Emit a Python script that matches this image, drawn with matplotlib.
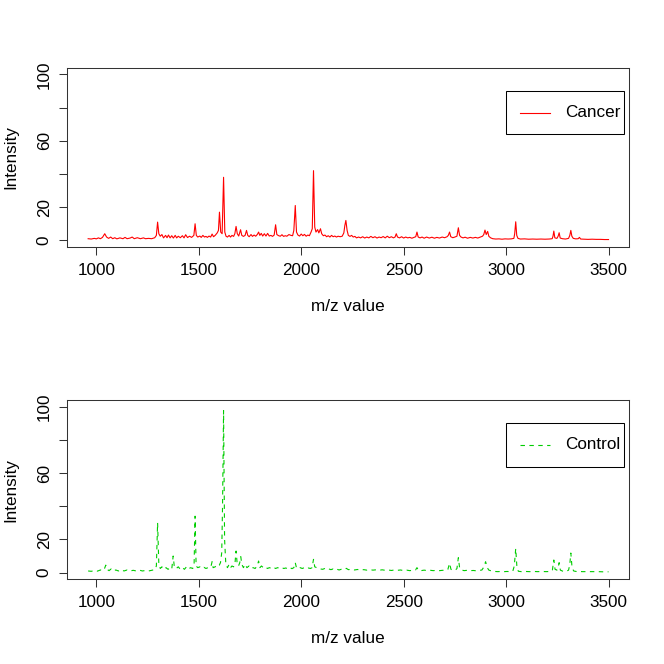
import matplotlib
matplotlib.use('Agg')
import matplotlib.pyplot as plt
from matplotlib.patches import Rectangle
from matplotlib.lines import Line2D

plt.rcParams['font.family'] = ['Liberation Sans', 'DejaVu Sans']

# Cancer spectrum (m/z, intensity)
cancer_mz = [960, 975, 990, 1000, 1010, 1020, 1030, 1041, 1050, 1060, 1070, 1080, 1090, 1100,
             1115, 1130, 1140, 1150, 1165, 1175, 1185, 1200, 1215, 1230, 1240, 1255, 1270, 1285,
             1293, 1299, 1305, 1312, 1320, 1328, 1338, 1345, 1352, 1360, 1368, 1376, 1385, 1392,
             1400, 1410, 1420, 1428, 1436, 1445, 1455, 1465, 1476, 1482, 1488, 1495, 1505, 1512,
             1520, 1528, 1535, 1542, 1550, 1558, 1565, 1572, 1580, 1590, 1596, 1601, 1607, 1614,
             1621, 1627, 1633, 1640, 1648, 1655, 1662, 1670, 1676, 1682, 1688, 1695, 1704, 1710,
             1718, 1726, 1733, 1739, 1746, 1755, 1762, 1770, 1778, 1786, 1792, 1798, 1805, 1812,
             1820, 1828, 1836, 1844, 1852, 1860, 1868, 1875, 1881, 1890, 1898, 1906, 1914, 1922,
             1930, 1940, 1950, 1958, 1964, 1971, 1977, 1984, 1992, 2000, 2008, 2016, 2024, 2032,
             2040, 2048, 2054, 2060, 2066, 2072, 2080, 2086, 2094, 2100, 2108, 2116, 2124, 2132,
             2140, 2148, 2156, 2164, 2172, 2180, 2190, 2200, 2208, 2213, 2218, 2224, 2230, 2238,
             2246, 2254, 2262, 2270, 2280, 2290, 2300, 2310, 2320, 2330, 2340, 2350, 2360, 2370,
             2380, 2390, 2400, 2410, 2420, 2430, 2440, 2450, 2458, 2464, 2470, 2480, 2490, 2500,
             2510, 2520, 2530, 2540, 2550, 2559, 2565, 2571, 2580, 2590, 2600, 2612, 2625, 2638,
             2650, 2662, 2675, 2688, 2700, 2712, 2718, 2724, 2730, 2740, 2750, 2760, 2767, 2773,
             2780, 2790, 2800, 2812, 2825, 2838, 2850, 2862, 2875, 2885, 2891, 2897, 2903, 2910,
             2916, 2925, 2935, 2950, 2965, 2980, 2995, 3010, 3025, 3038, 3042, 3047, 3052, 3058,
             3070, 3090, 3110, 3130, 3150, 3170, 3190, 3210, 3225, 3229, 3233, 3238, 3248, 3254,
             3259, 3264, 3275, 3290, 3305, 3311, 3316, 3321, 3328, 3340, 3352, 3358, 3364, 3380,
             3400, 3420, 3440, 3460, 3480, 3500]
cancer_int = [1.0, 0.8, 1.2, 0.9, 1.5, 1.0, 1.8, 4.0, 2.0, 1.2, 2.0, 1.0, 1.6, 0.9,
              1.5, 1.0, 1.8, 1.0, 1.4, 2.0, 1.0, 1.6, 1.0, 1.5, 1.0, 1.2, 1.0, 1.6,
              3.0, 11.0, 4.0, 2.5, 3.5, 1.5, 3.0, 1.6, 3.2, 1.5, 2.8, 1.4, 3.0, 1.5,
              2.5, 1.6, 2.8, 1.5, 3.4, 1.7, 2.5, 1.8, 3.0, 10.0, 3.0, 2.0, 2.6, 1.8,
              3.0, 2.0, 2.4, 1.8, 2.6, 2.0, 3.8, 2.2, 3.0, 4.5, 6.0, 17.0, 5.0, 4.0,
              38.0, 5.0, 2.5, 2.0, 3.0, 2.0, 3.0, 2.4, 4.0, 8.4, 4.0, 2.6, 6.4, 3.0,
              2.4, 3.0, 6.0, 3.0, 2.2, 3.5, 2.4, 3.2, 2.5, 3.6, 5.0, 3.0, 4.2, 2.6,
              4.0, 2.6, 4.2, 2.6, 3.0, 2.4, 3.2, 9.4, 3.5, 2.8, 2.5, 3.4, 2.4, 2.8,
              2.5, 3.5, 3.0, 2.8, 6.0, 21.0, 5.0, 3.2, 2.6, 3.8, 2.8, 3.6, 2.5, 3.2,
              2.8, 5.0, 7.0, 42.0, 8.0, 5.0, 6.5, 4.5, 7.0, 4.0, 2.8, 3.2, 2.2, 2.8,
              2.0, 3.0, 2.2, 2.6, 2.0, 2.5, 2.2, 2.5, 4.5, 9.0, 12.0, 6.0, 3.0, 2.4,
              3.0, 2.0, 2.4, 1.5, 2.0, 1.5, 2.2, 1.4, 2.0, 1.5, 2.4, 1.6, 2.2, 1.4,
              2.0, 1.6, 2.3, 1.5, 2.5, 1.6, 2.2, 1.5, 2.0, 4.0, 2.0, 1.5, 2.2, 1.4,
              2.0, 1.5, 1.8, 1.3, 1.8, 2.2, 5.0, 2.0, 1.5, 2.0, 1.3, 2.0, 1.4, 1.9,
              1.3, 1.8, 1.4, 2.0, 1.6, 2.2, 3.0, 5.0, 2.2, 1.6, 2.0, 2.5, 7.6, 3.0,
              2.0, 1.5, 1.9, 1.3, 1.8, 1.4, 1.8, 1.4, 2.0, 2.5, 3.5, 6.2, 3.5, 5.4,
              2.4, 1.5, 1.0, 0.8, 0.9, 0.7, 0.9, 0.8, 0.9, 1.2, 4.0, 11.2, 3.0, 1.2,
              0.8, 0.9, 0.7, 0.8, 0.7, 0.8, 0.7, 0.8, 1.0, 2.5, 5.6, 1.5, 1.2, 2.5,
              4.6, 1.4, 1.0, 0.8, 1.2, 3.0, 6.0, 2.5, 1.2, 0.9, 1.0, 1.8, 0.8, 0.7,
              0.6, 0.7, 0.6, 0.6, 0.5, 0.5]

# Control spectrum (m/z, intensity)
control_mz = [960, 975, 990, 1005, 1020, 1032, 1040, 1046, 1052, 1062, 1072, 1082, 1095, 1108,
              1120, 1135, 1150, 1165, 1180, 1195, 1210, 1225, 1240, 1255, 1270, 1285, 1293, 1299,
              1305, 1312, 1320, 1330, 1340, 1350, 1360, 1368, 1375, 1381, 1390, 1400, 1410, 1420,
              1430, 1440, 1450, 1460, 1470, 1477, 1482, 1487, 1495, 1505, 1515, 1525, 1535, 1545,
              1552, 1560, 1565, 1570, 1580, 1590, 1600, 1606, 1612, 1616, 1621, 1626, 1632, 1640,
              1648, 1655, 1662, 1670, 1677, 1682, 1687, 1694, 1700, 1705, 1710, 1718, 1726, 1735,
              1745, 1755, 1765, 1775, 1785, 1792, 1798, 1806, 1815, 1825, 1835, 1845, 1855, 1865,
              1875, 1885, 1895, 1905, 1915, 1925, 1935, 1945, 1955, 1964, 1971, 1977, 1985, 1995,
              2005, 2015, 2025, 2035, 2045, 2053, 2060, 2066, 2075, 2085, 2095, 2105, 2115, 2125,
              2135, 2145, 2155, 2165, 2175, 2185, 2195, 2210, 2220, 2230, 2245, 2260, 2275, 2290,
              2305, 2320, 2335, 2350, 2365, 2380, 2395, 2410, 2425, 2440, 2455, 2470, 2485, 2500,
              2515, 2530, 2545, 2558, 2565, 2572, 2585, 2600, 2615, 2630, 2645, 2660, 2675, 2690,
              2705, 2716, 2724, 2731, 2740, 2752, 2760, 2767, 2773, 2782, 2795, 2810, 2825, 2840,
              2855, 2870, 2882, 2892, 2900, 2908, 2916, 2930, 2945, 2960, 2975, 2990, 3005, 3020,
              3033, 3040, 3047, 3053, 3060, 3075, 3095, 3115, 3135, 3155, 3175, 3195, 3215, 3226,
              3233, 3239, 3248, 3254, 3259, 3265, 3278, 3292, 3305, 3311, 3316, 3322, 3330, 3342,
              3355, 3370, 3390, 3410, 3430, 3450, 3470, 3490, 3500]
control_int = [1.0, 0.8, 1.2, 0.9, 1.6, 1.2, 2.5, 4.5, 2.0, 1.2, 2.2, 1.0, 1.6, 1.0,
               1.8, 1.0, 1.6, 1.0, 1.4, 1.0, 1.5, 1.0, 1.3, 1.0, 1.4, 1.8, 4.0, 30.0,
               5.0, 2.5, 3.5, 2.0, 3.0, 2.0, 2.8, 2.0, 10.0, 3.0, 2.5, 3.5, 2.0, 3.0,
               2.0, 3.5, 2.2, 3.0, 2.5, 4.0, 34.0, 4.0, 3.0, 3.5, 2.5, 3.2, 2.5, 3.0,
               2.8, 4.0, 6.6, 3.0, 3.5, 5.0, 4.5, 6.0, 12.0, 40.0, 97.6, 20.0, 5.0, 3.0,
               5.0, 3.0, 4.0, 3.5, 6.0, 13.0, 6.0, 4.0, 6.0, 9.6, 5.0, 3.0, 5.0, 3.0,
               4.0, 2.5, 3.0, 2.5, 4.0, 7.0, 3.0, 4.0, 3.0, 3.5, 2.5, 3.0, 2.5, 3.2,
               2.5, 3.0, 2.5, 3.0, 2.5, 2.8, 2.2, 3.0, 2.4, 3.0, 6.0, 2.8, 2.4, 3.0,
               2.5, 3.0, 2.4, 2.8, 2.5, 3.0, 8.0, 3.5, 3.0, 2.5, 2.2, 2.0, 2.5, 1.8,
               2.2, 1.8, 2.2, 1.6, 2.0, 1.6, 2.0, 1.8, 2.6, 1.8, 2.0, 1.6, 1.9, 1.5,
               1.8, 1.5, 1.8, 1.5, 1.7, 1.4, 1.7, 1.4, 1.6, 1.3, 1.6, 1.4, 1.6, 1.2,
               1.5, 1.2, 1.4, 1.6, 3.0, 1.4, 1.2, 1.5, 1.2, 1.4, 1.2, 1.4, 1.2, 1.4,
               1.3, 2.0, 5.6, 2.0, 1.4, 1.6, 2.4, 9.0, 3.0, 1.6, 1.2, 1.4, 1.2, 1.3,
               1.1, 1.3, 1.6, 3.5, 6.6, 3.0, 1.5, 1.0, 0.7, 0.6, 0.7, 0.6, 0.7, 0.6,
               1.0, 4.0, 14.5, 3.0, 0.8, 0.6, 0.7, 0.6, 0.7, 0.6, 0.7, 0.6, 0.7, 1.5,
               7.6, 2.0, 1.5, 3.0, 6.0, 1.5, 0.8, 0.7, 1.5, 5.0, 11.8, 3.0, 1.0, 0.7,
               0.8, 0.6, 0.6, 0.6, 0.6, 0.6, 0.5, 0.5, 0.5]

x_ticks = [1000, 1500, 2000, 2500, 3000, 3500]
y_ticks = [0, 20, 40, 60, 80, 100]
y_labels = ['0', '20', '', '60', '', '100']

fig = plt.figure(figsize=(6.64, 6.64), dpi=100)

panels = [
    (cancer_mz, cancer_int, '#FF0000', '-', 'Cancer', 0.628),
    (control_mz, control_int, '#00CD00', (0, (4, 4)), 'Control', 0.1276),
]

fs = 12.3
for mz, inten, col, ls, name, bottom in panels:
    ax = fig.add_axes([0.1014, bottom, 0.8464, 0.27])
    ax.plot(mz, inten, color=col, lw=0.8, linestyle=ls)
    rng = max(mz) - min(mz)
    ax.set_xlim(min(mz) - 0.04 * rng, max(mz) + 0.04 * rng)
    ax.set_ylim(-4, 104)
    ax.set_xticks(x_ticks)
    ax.set_xticklabels([str(t) for t in x_ticks])
    ax.set_yticks(y_ticks)
    ax.set_yticklabels(y_labels, rotation=90, va='center')
    ax.tick_params(direction='out', length=5.8, width=0.75, labelsize=fs, pad=5.5,
                   color='#333333')
    for s in ax.spines.values():
        s.set_linewidth(0.75)
        s.set_color('#333333')
    ax.set_xlabel('m/z value', fontsize=fs, labelpad=15)
    ax.set_ylabel('Intensity', fontsize=fs, labelpad=13)

    # legend box drawn like R's legend()
    ax.add_patch(Rectangle((0.78, 0.6286), 0.211, 0.2414, transform=ax.transAxes,
                           facecolor='white', edgecolor='black', lw=0.75, zorder=5))
    ax.add_line(Line2D([0.8055, 0.859], [0.749, 0.749], transform=ax.transAxes,
                       color=col, lw=0.8, linestyle=ls, zorder=6))
    ax.text(0.885, 0.749, name, transform=ax.transAxes, fontsize=fs,
            va='center', ha='left', zorder=6)

fig.savefig('out.png', dpi=100)
